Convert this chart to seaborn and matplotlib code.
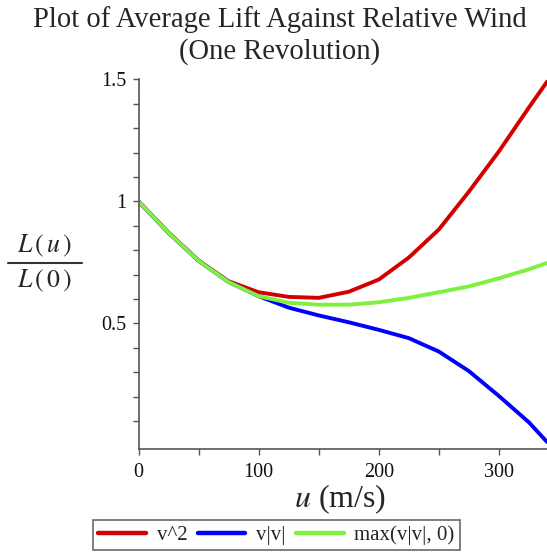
import numpy as np
import pandas as pd
import matplotlib
matplotlib.use("Agg")
import matplotlib.pyplot as plt
import seaborn as sns
from matplotlib.ticker import FixedLocator
from matplotlib.lines import Line2D

u_vals = [0, 25, 50, 75, 100, 125, 150, 175, 200, 225, 250, 275, 300, 325, 340]
v_squared = [1.0, 0.872, 0.758, 0.673, 0.628, 0.609, 0.605, 0.630, 0.680, 0.770, 0.885, 1.040, 1.205, 1.385, 1.49]
v_abs_v = [1.0, 0.872, 0.757, 0.670, 0.612, 0.565, 0.533, 0.505, 0.474, 0.440, 0.385, 0.305, 0.203, 0.095, 0.015]
v_max0 = [1.0, 0.872, 0.757, 0.670, 0.612, 0.585, 0.577, 0.577, 0.587, 0.605, 0.628, 0.652, 0.685, 0.722, 0.748]
series_names = ["v^2", "v|v|", "max(v|v|, 0)"]
colors = ["#d20000", "#0000ff", "#80f040"]

df = pd.concat([
    pd.DataFrame({"u": u_vals, "ratio": v_squared, "series": series_names[0]}),
    pd.DataFrame({"u": u_vals, "ratio": v_abs_v, "series": series_names[1]}),
    pd.DataFrame({"u": u_vals, "ratio": v_max0, "series": series_names[2]}),
])

sns.set_theme(style="white")
plt.rcParams["font.family"] = ["Liberation Serif", "DejaVu Serif"]
plt.rcParams["mathtext.fontset"] = "stix"

fig = plt.figure(figsize=(5.47, 5.52), dpi=100)
ax = fig.add_axes([0.2532, 0.1866, 0.7468, 0.6697])

sns.lineplot(data=df, x="u", y="ratio", hue="series", hue_order=series_names,
             palette=colors, linewidth=2.8, ax=ax, sort=False)

ax.set_xlim(0, 340)
ax.set_ylim(-0.014, 1.5)
for s in ["top", "right"]:
    ax.spines[s].set_visible(False)
for s in ["left", "bottom"]:
    ax.spines[s].set_color("#555555")
    ax.spines[s].set_linewidth(1.2)

ax.xaxis.set_major_locator(FixedLocator([0, 100, 200, 300]))
ax.xaxis.set_minor_locator(FixedLocator([50, 150, 250]))
ax.yaxis.set_major_locator(FixedLocator([0.5, 1.0, 1.5]))
ax.yaxis.set_minor_locator(FixedLocator([0.1, 0.2, 0.3, 0.4, 0.6, 0.7, 0.8, 0.9, 1.1, 1.2, 1.3, 1.4]))
ax.set_yticklabels(["0.5", "1", "1.5"])
ax.tick_params(which="both", direction="out", length=4, width=1, color="#555555",
               bottom=True, left=True, labelsize=14.5, labelcolor="#111111")
ax.tick_params(axis="x", which="both", pad=6)
ax.tick_params(axis="y", which="both", pad=5)

ax.set_xlabel("")
ax.set_ylabel("")
ax.text(0.494, -0.135, r"$u$ (m/s)", transform=ax.transAxes, ha="center", va="center", fontsize=23)

# y label drawn as a stacked fraction
W, H = 547.0, 552.0
fig.text(44 / W, 1 - 246 / H, r"$L\,(\,u\,)$", ha="center", va="center", fontsize=18.5)
fig.text(44 / W, 1 - 281 / H, r"$L\,(\,0\,)$", ha="center", va="center", fontsize=18.5)
fig.add_artist(Line2D([8 / W, 82 / W], [1 - 263 / H, 1 - 263 / H], transform=fig.transFigure,
                      color="#333333", linewidth=1.5))

fig.text(0.511, 0.964, "Plot of Average Lift Against Relative Wind", ha="center", va="center", fontsize=20.6)
fig.text(0.511, 0.906, "(One Revolution)", ha="center", va="center", fontsize=20.6)

leg = ax.legend(loc="lower left", bbox_to_anchor=(0.170, 0.0036), bbox_transform=fig.transFigure,
                ncol=3, frameon=True, fontsize=15, handlelength=2.3, columnspacing=0.5,
                handletextpad=0.5, borderpad=0.25, borderaxespad=0, fancybox=False, title=None)
leg.get_frame().set_edgecolor("#444444")
leg.get_frame().set_linewidth(1.2)
for line in leg.get_lines():
    line.set_linewidth(3.2)

fig.savefig("out.png", dpi=100)
